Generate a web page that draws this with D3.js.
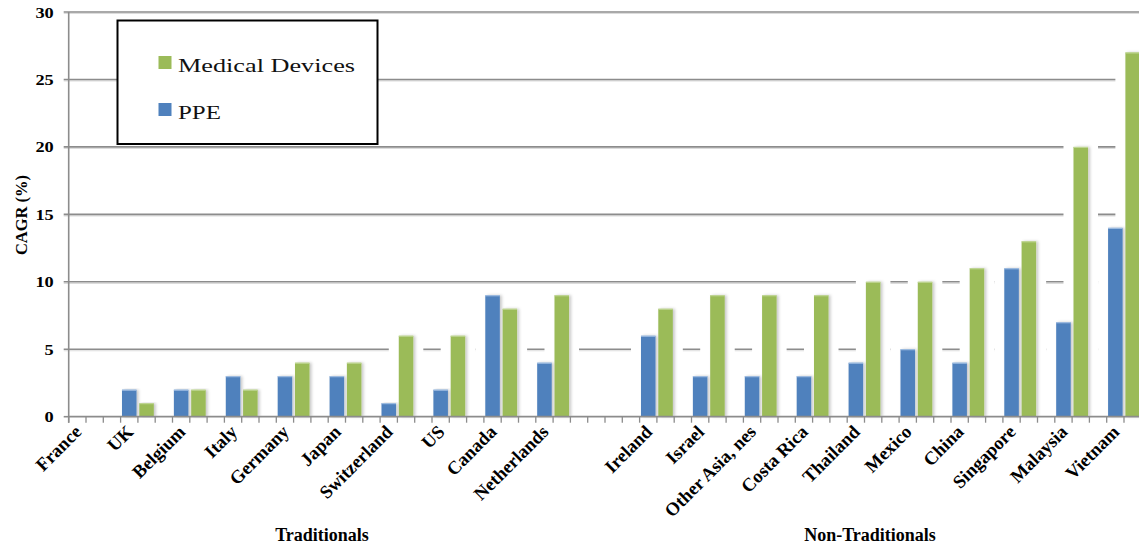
<!DOCTYPE html>
<html>
<head>
<meta charset="utf-8">
<script src="https://cdn.jsdelivr.net/npm/d3@7"></script>
<style>
    body { margin: 0; background: #fff; }
    svg { display: block; font-family: "Times New Roman", "Liberation Serif", serif; }
</style>
</head>
<body>
<svg id="chart" width="1139" height="548"></svg>
<script>
// chart data
const countries = ["France", "UK", "Belgium", "Italy", "Germany", "Japan", "Switzerland", "US", "Canada", "Netherlands",
    "Ireland", "Israel", "Other Asia, nes", "Costa Rica", "Thailand", "Mexico", "China", "Singapore", "Malaysia", "Vietnam"];
const groupOf = ["Traditionals", "Traditionals", "Traditionals", "Traditionals", "Traditionals", "Traditionals", "Traditionals", "Traditionals", "Traditionals", "Traditionals",
    "Non-Traditionals", "Non-Traditionals", "Non-Traditionals", "Non-Traditionals", "Non-Traditionals", "Non-Traditionals", "Non-Traditionals", "Non-Traditionals", "Non-Traditionals", "Non-Traditionals"];
const groups = ["Traditionals", "Non-Traditionals"];
const ppe = [0, 2, 2, 3, 3, 3, 1, 2, 9, 4, 6, 3, 3, 3, 4, 5, 4, 11, 7, 14];
const medical = [0, 1, 2, 2, 4, 4, 6, 6, 8, 9, 8, 9, 9, 9, 10, 10, 11, 13, 20, 27];
const yTicks = [0, 5, 10, 15, 20, 25, 30];
const seriesNames = ["Medical Devices", "PPE"];
const yTitle = "CAGR (%)";

(function () {
    const colors = { "PPE": "#4f81bd", "Medical Devices": "#9bbb59" };
    const gridColor = "#8c8c8c";

    // each country takes 3 slots (PPE, MD, blank), 3 blank slots between groups
    const slotOf = countries.map((c, i) => i * 3 + (groupOf[i] === groups[1] ? 3 : 0));
    const nSlots = countries.length * 3 + 3;

    const left = 68.7, step = 17.3, bottom = 416.7, top = 12;

    const x = d3.scaleBand()
        .domain(d3.range(nSlots))
        .range([left, left + nSlots * step])
        .paddingInner(0.16)
        .paddingOuter(0.08);
    const edge = i => left + i * x.step(); // slot boundary

    const y = d3.scaleLinear().domain([0, 30]).range([bottom, top]);

    // group title centres (the axis runs past the cropped right edge)
    const groupX = { "Traditionals": 322, "Non-Traditionals": 870 };

    const svg = d3.select("#chart");

    const defs = svg.append("defs");
    const f = defs.append("filter").attr("id", "shadow")
        .attr("x", "-20%").attr("y", "-5%").attr("width", "160%").attr("height", "110%");
    f.append("feDropShadow").attr("dx", 2).attr("dy", 0).attr("stdDeviation", 1.4)
        .attr("flood-color", "#000").attr("flood-opacity", 0.22);

    // gridlines
    const grid = svg.append("g");
    grid.selectAll(".gs").data(yTicks.slice(1)).join("line")
        .attr("x1", left - 5).attr("x2", 1139)
        .attr("y1", d => y(d) + 1.5).attr("y2", d => y(d) + 1.5)
        .attr("stroke", "#dcdcdc").attr("stroke-width", 1.2);
    grid.selectAll(".gl").data(yTicks.slice(1)).join("line")
        .attr("x1", left - 5).attr("x2", 1139)
        .attr("y1", d => y(d)).attr("y2", d => y(d))
        .attr("stroke", gridColor).attr("stroke-width", 1.6);

    // bar records
    const bars = [];
    countries.forEach((c, i) => {
        bars.push({ name: c, series: "PPE", slot: slotOf[i], value: ppe[i] });
        bars.push({ name: c, series: "Medical Devices", slot: slotOf[i] + 1, value: medical[i] });
    });

    // white glow around bars that hides the gridlines
    svg.append("g").selectAll("rect")
        .data(bars.filter(d => d.value > 0))
        .join("rect")
        .attr("x", d => x(d.slot) - 10)
        .attr("width", x.bandwidth() + 20)
        .attr("y", d => y(d.value) - 1.5)
        .attr("height", d => bottom - y(d.value) + 1.5)
        .attr("fill", "#fff");

    // bars
    svg.append("g").selectAll("rect")
        .data(bars.filter(d => d.value > 0))
        .join("rect")
        .attr("x", d => x(d.slot))
        .attr("width", x.bandwidth())
        .attr("y", d => y(d.value))
        .attr("height", d => bottom - y(d.value))
        .attr("fill", d => colors[d.series])
        .attr("filter", "url(#shadow)");

    // light top edge of bars
    svg.append("g").selectAll("line")
        .data(bars.filter(d => d.value > 0))
        .join("line")
        .attr("x1", d => x(d.slot)).attr("x2", d => x(d.slot) + x.bandwidth())
        .attr("y1", d => y(d.value) + 0.5).attr("y2", d => y(d.value) + 0.5)
        .attr("stroke", d => d.series === "PPE" ? "#a9c4e6" : "#c3d99a")
        .attr("stroke-width", 1);

    // y axis
    svg.append("line")
        .attr("x1", left).attr("x2", left).attr("y1", top).attr("y2", bottom + 6)
        .attr("stroke", gridColor).attr("stroke-width", 1.6);
    svg.append("line")
        .attr("x1", left - 5).attr("x2", left).attr("y1", bottom).attr("y2", bottom)
        .attr("stroke", gridColor).attr("stroke-width", 1.6);

    svg.append("g").selectAll("text")
        .data(yTicks)
        .join("text")
        .attr("transform", d => `translate(${left - 15},${y(d) + 5.5}) scale(1.22,1)`)
        .attr("text-anchor", "end")
        .attr("font-size", 15)
        .attr("font-weight", "bold")
        .text(d => d);

    svg.append("text")
        .attr("transform", `translate(26.5,215) rotate(-90)`)
        .attr("text-anchor", "middle")
        .attr("font-size", 16.5)
        .attr("font-weight", "bold")
        .text(yTitle);

    // x axis line and ticks
    svg.append("line")
        .attr("x1", left).attr("x2", 1139).attr("y1", bottom).attr("y2", bottom)
        .attr("stroke", gridColor).attr("stroke-width", 1.8);
    svg.append("g").selectAll("line")
        .data(d3.range(nSlots + 1))
        .join("line")
        .attr("x1", d => edge(d)).attr("x2", d => edge(d))
        .attr("y1", bottom).attr("y2", bottom + 6)
        .attr("stroke", gridColor).attr("stroke-width", 1.3);

    // country labels
    svg.append("g").selectAll("text")
        .data(countries)
        .join("text")
        .attr("transform", (d, i) => `translate(${edge(slotOf[i] + 1) - 3.5},433) rotate(-45)`)
        .attr("text-anchor", "end")
        .attr("font-size", 18.5)
        .attr("font-weight", "bold")
        .text(d => d);

    // group labels
    svg.append("g").selectAll("text")
        .data(groups)
        .join("text")
        .attr("x", g => groupX[g])
        .attr("y", 540.5)
        .attr("text-anchor", "middle")
        .attr("font-size", 18)
        .attr("font-weight", "bold")
        .text(g => g);

    // legend
    const legend = svg.append("g");
    legend.append("rect")
        .attr("x", 117.5).attr("y", 20.5).attr("width", 260).attr("height", 123.5)
        .attr("fill", "#fff").attr("stroke", "#000").attr("stroke-width", 2);
    const item = legend.selectAll("g")
        .data(seriesNames)
        .join("g")
        .attr("transform", (d, i) => `translate(158.5,${56 + i * 47})`);
    item.append("rect")
        .attr("width", 13).attr("height", 13)
        .attr("fill", d => colors[d]);
    item.append("text")
        .attr("x", 19.5).attr("y", 15.5)
        .attr("font-size", 18.5)
        .attr("textLength", d => d === "PPE" ? 43 : 177)
        .attr("lengthAdjust", "spacingAndGlyphs")
        .attr("fill", "#111")
        .text(d => d);
})();
</script>
</body>
</html>
